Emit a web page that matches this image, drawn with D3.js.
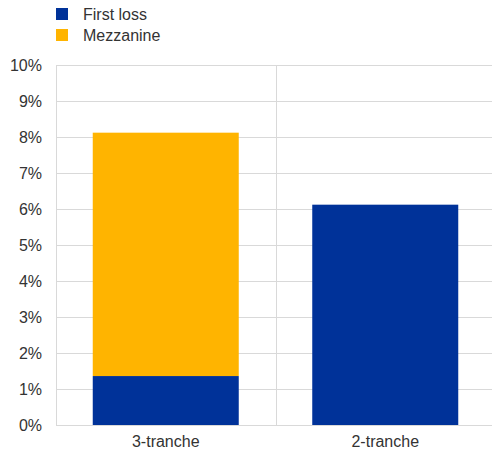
<!DOCTYPE html>
<html>
<head>
<meta charset="utf-8">
<script src="https://cdn.jsdelivr.net/npm/d3@7"></script>
<style>
  html, body { margin: 0; padding: 0; background: #fff; overflow: hidden; }
  svg { display: block; font-family: "Liberation Sans", Arial, sans-serif; }
</style>
</head>
<body>
<svg id="chart" width="492" height="454"></svg>
<script>
// Tranche structures and loss-absorbing thickness (% of pool)
const categories = ["3-tranche", "2-tranche"];
const seriesNames = ["First loss", "Mezzanine"];
const firstLoss = [1.36, 6.12];
const mezzanine = [6.76, 0];
const yTicks = [0, 1, 2, 3, 4, 5, 6, 7, 8, 9, 10];
const colors = ["#003299", "#ffb400"];

const svg = d3.select("#chart");
const margin = { left: 56, top: 65, bottom: 29 };
const plotW = 439;
const height = 454;

const x = d3.scaleBand().domain(categories).range([margin.left, margin.left + plotW]).paddingInner(0).paddingOuter(0);
const y = d3.scaleLinear().domain([0, 10]).range([height - margin.bottom, margin.top]);

const rows = categories.map((c, i) => ({ cat: c, "First loss": firstLoss[i], "Mezzanine": mezzanine[i] }));
const stacked = d3.stack().keys(seriesNames)(rows);

const grid = "#d9d9d9";

// horizontal gridlines
svg.append("g").selectAll("line").data(yTicks).join("line")
  .attr("x1", margin.left).attr("x2", margin.left + plotW)
  .attr("y1", d => Math.round(y(d)) + 0.5).attr("y2", d => Math.round(y(d)) + 0.5)
  .attr("stroke", grid).attr("stroke-width", 1);

// vertical separators between categories
const seps = [margin.left, ...categories.map(c => x(c) + x.bandwidth())];
svg.append("g").selectAll("line").data(seps).join("line")
  .attr("x1", d => Math.round(d) + 0.5).attr("x2", d => Math.round(d) + 0.5)
  .attr("y1", y(10)).attr("y2", y(0))
  .attr("stroke", grid).attr("stroke-width", 1);

// bars
const barW = 146;
svg.append("g").selectAll("g").data(stacked).join("g")
  .attr("fill", (d, i) => colors[i])
  .selectAll("rect").data(d => d.filter(s => s[1] - s[0] > 0)).join("rect")
  .attr("x", d => x(d.data.cat) + (x.bandwidth() - barW) / 2)
  .attr("width", barW)
  .attr("y", d => y(d[1]))
  .attr("height", d => y(d[0]) - y(d[1]));

// y axis labels
const yAxis = d3.axisLeft(y).tickValues(yTicks).tickFormat(d => d + "%").tickSize(0).tickPadding(14);
const ya = svg.append("g").attr("transform", `translate(${margin.left},0)`).call(yAxis);
ya.select(".domain").remove();
ya.selectAll("text").attr("font-size", 16).attr("fill", "#333").attr("font-family", "Liberation Sans, Arial, sans-serif");

// x axis labels
const xAxis = d3.axisBottom(x).tickSize(0).tickPadding(11);
const xa = svg.append("g").attr("transform", `translate(0,${y(0)})`).call(xAxis);
xa.select(".domain").remove();
xa.selectAll("text").attr("font-size", 16).attr("fill", "#333").attr("font-family", "Liberation Sans, Arial, sans-serif");

// legend
const legend = svg.append("g").selectAll("g").data(seriesNames).join("g")
  .attr("transform", (d, i) => `translate(56,${8 + i * 21})`);
legend.append("rect").attr("width", 12).attr("height", 12).attr("fill", (d, i) => colors[i]);
legend.append("text").attr("x", 27).attr("y", 6).attr("dy", "0.35em")
  .attr("font-size", 16).attr("fill", "#333").text(d => d);
</script>
</body>
</html>
